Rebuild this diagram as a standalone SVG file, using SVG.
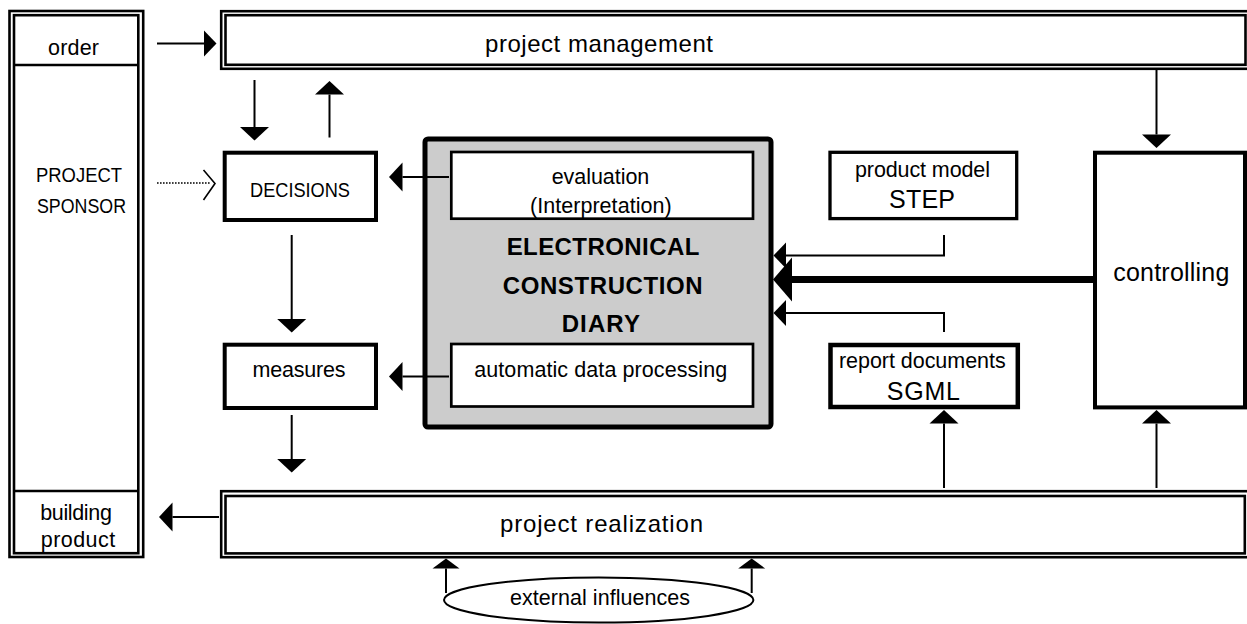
<svg xmlns="http://www.w3.org/2000/svg" width="1247" height="624" viewBox="0 0 1247 624">
<defs>
<style>
text{font-family:"Liberation Sans",Arial,Helvetica,sans-serif;fill:#000;text-anchor:middle}
.t21{font-size:21.5px}
.t24{font-size:24px}
.t25{font-size:25px}
.cap{font-size:20px}
.bold{font-size:24px;font-weight:bold}
.dbl{fill:none;stroke:#000;stroke-width:2.6}
.box{fill:#fff;stroke:#000}
.ln{fill:none;stroke:#000;stroke-width:2}
</style>
<marker id="ah" markerUnits="userSpaceOnUse" markerWidth="14" markerHeight="29" refX="0" refY="14.5" orient="auto" overflow="visible">
<path d="M0,0 L13.5,14.5 L0,29 Z" fill="#000"/>
</marker>
<marker id="ahs" markerUnits="userSpaceOnUse" markerWidth="11" markerHeight="27" refX="0" refY="13.5" orient="auto" overflow="visible">
<path d="M0,0 L10,13.5 L0,27 Z" fill="#000"/>
</marker>
<marker id="ahm" markerUnits="userSpaceOnUse" markerWidth="14" markerHeight="26" refX="0" refY="13" orient="auto" overflow="visible">
<path d="M0,0 L12.5,13 L0,26 Z" fill="#000"/>
</marker>
<marker id="ahT" markerUnits="userSpaceOnUse" markerWidth="20" markerHeight="44" refX="0" refY="22" orient="auto" overflow="visible">
<path d="M0,0 L19,22 L0,44 Z" fill="#000"/>
</marker>
</defs>
<rect width="1247" height="624" fill="#fff"/>

<g id="sponsor-column">
<rect class="dbl" x="9.5" y="11" width="133.7" height="546"/>
<rect class="dbl" x="14" y="15.2" width="124.3" height="538"/>
<line class="dbl" x1="14" y1="65" x2="138.3" y2="65"/>
<line class="dbl" x1="14" y1="491" x2="138.3" y2="491"/>
<text class="t21" x="73.5" y="54.5" textLength="51">order</text>
<text class="cap" x="79" y="182" textLength="86" lengthAdjust="spacingAndGlyphs">PROJECT</text>
<text class="cap" x="81.5" y="213" textLength="89" lengthAdjust="spacingAndGlyphs">SPONSOR</text>
<text class="t21" x="76" y="519.5" textLength="71.7">building</text>
<text class="t21" x="78" y="547" textLength="74.3">product</text>
</g>

<g id="project-management">
<rect class="dbl" x="221.2" y="11.2" width="1028" height="57.6"/>
<rect class="dbl" x="225.5" y="15.2" width="1020" height="49.6"/>
<text class="t24" x="599" y="51.7" textLength="228">project management</text>
</g>

<g id="decisions">
<rect class="box" stroke-width="4" x="224.7" y="152.7" width="151.3" height="67.3"/>
<text class="cap" x="300" y="197" textLength="100" lengthAdjust="spacingAndGlyphs">DECISIONS</text>
</g>

<g id="measures">
<rect class="box" stroke-width="4" x="224.7" y="344.7" width="151.3" height="63.3"/>
<text class="t21" x="299" y="377" textLength="93">measures</text>
</g>

<g id="ecd">
<rect x="425" y="139" width="346" height="288" rx="3" fill="#cccccc" stroke="#000" stroke-width="5"/>
<text class="bold" x="603" y="255" textLength="192.7">ELECTRONICAL</text>
<text class="bold" x="602.7" y="293.5" textLength="200">CONSTRUCTION</text>
<text class="bold" x="600.8" y="331.5" textLength="78.3">DIARY</text>
</g>

<g id="evaluation">
<rect class="box" stroke-width="2.7" x="451.3" y="152" width="301.7" height="66.7"/>
<text class="t21" x="600.5" y="184.3" textLength="97.6">evaluation</text>
<text class="t21" x="600.8" y="212.7" textLength="141.7">(Interpretation)</text>
</g>

<g id="adp">
<rect class="box" stroke-width="2.7" x="451.3" y="344" width="301.7" height="62.5"/>
<text class="t21" x="600.7" y="376.7" textLength="253">automatic data processing</text>
</g>

<g id="product-model">
<rect class="box" stroke-width="3.3" x="830" y="152.3" width="186.7" height="66.3"/>
<text class="t21" x="922.5" y="177.3" textLength="135">product model</text>
<text class="t25" x="922" y="208.3" textLength="66">STEP</text>
</g>

<g id="report-documents">
<rect class="box" stroke-width="4.5" x="830.5" y="345" width="187.3" height="62"/>
<text class="t21" x="922.3" y="368.3" textLength="166.7">report documents</text>
<text class="t25" x="923.3" y="400" textLength="73.3">SGML</text>
</g>

<g id="controlling">
<rect class="box" stroke-width="4" x="1095" y="152.7" width="150" height="254.7"/>
<text class="t25" x="1171.3" y="281" textLength="116">controlling</text>
</g>

<g id="project-realization">
<rect class="dbl" x="221.2" y="491.2" width="1028" height="66"/>
<rect class="dbl" x="225.5" y="496" width="1019.3" height="57.4"/>
<text class="t24" x="601.5" y="531.7" textLength="203">project realization</text>
</g>

<g id="external-influences">
<ellipse cx="598.7" cy="600" rx="154.7" ry="22.5" fill="#fff" stroke="#000" stroke-width="2"/>
<text class="t21" x="600" y="605" textLength="180">external influences</text>
</g>

<g id="connectors">
<line class="ln" x1="157" y1="43.5" x2="204" y2="43.5" marker-end="url(#ahm)"/>
<line class="ln" x1="254.5" y1="80" x2="254.5" y2="127" marker-end="url(#ah)"/>
<line class="ln" x1="329.5" y1="137.5" x2="329.5" y2="94.5" marker-end="url(#ah)"/>
<line x1="157" y1="183" x2="211" y2="183" stroke="#000" stroke-width="1.6" stroke-dasharray="1.6 1.4"/>
<polyline points="203.5,170 215,183.5 203.5,200" fill="none" stroke="#000" stroke-width="1.6"/>
<line class="ln" x1="449" y1="177" x2="402.5" y2="177" marker-end="url(#ah)"/>
<line class="ln" x1="291.7" y1="235" x2="291.7" y2="319" marker-end="url(#ah)"/>
<line class="ln" x1="449" y1="376.5" x2="402.5" y2="376.5" marker-end="url(#ah)"/>
<line class="ln" x1="291.7" y1="415" x2="291.7" y2="459" marker-end="url(#ah)"/>
<line class="ln" x1="219" y1="517" x2="172.5" y2="517" marker-end="url(#ah)"/>
<line class="ln" x1="1156.5" y1="70" x2="1156.5" y2="134.5" marker-end="url(#ah)"/>
<path class="ln" d="M944,235 V255.5 H786" marker-end="url(#ahm)"/>
<path d="M1093,279.5 H792" fill="none" stroke="#000" stroke-width="7" marker-end="url(#ahT)"/>
<path class="ln" d="M944,332 V313 H786" marker-end="url(#ahm)"/>
<line class="ln" x1="944" y1="488" x2="944" y2="423.5" marker-end="url(#ah)"/>
<line class="ln" x1="1156.5" y1="488" x2="1156.5" y2="423.5" marker-end="url(#ah)"/>
<line class="ln" x1="446" y1="593" x2="446" y2="568.5" marker-end="url(#ahs)"/>
<line class="ln" x1="751.7" y1="593" x2="751.7" y2="568.5" marker-end="url(#ahs)"/>
</g>
</svg>
